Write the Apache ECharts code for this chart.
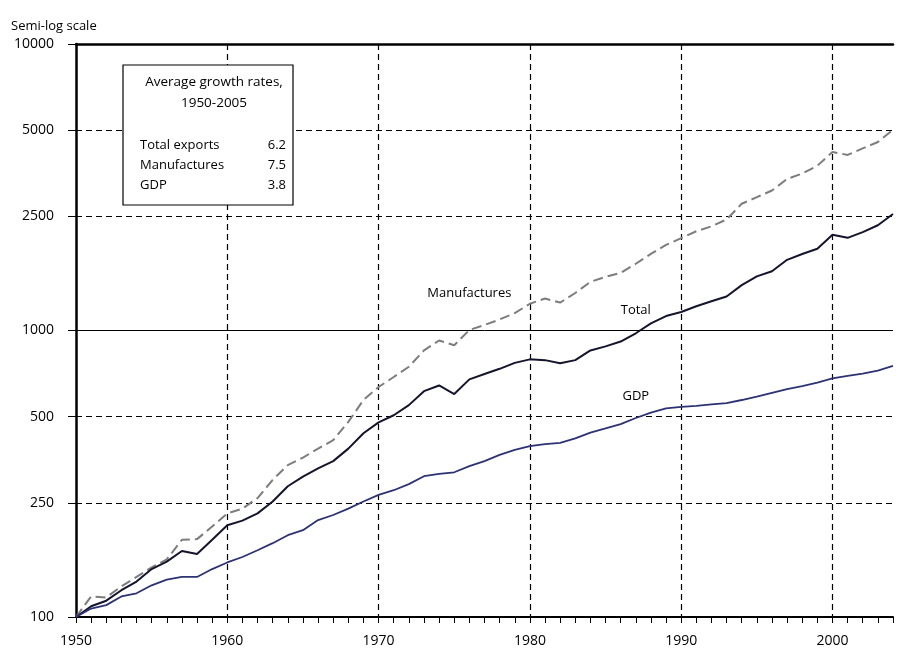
<!DOCTYPE html>
<html>
<head>
<meta charset="utf-8">
<script src="https://cdn.jsdelivr.net/npm/echarts@6/dist/echarts.min.js"></script>
<style>
  html, body { margin: 0; padding: 0; background: #fff; }
  #chart { width: 897px; height: 649px; }
</style>
</head>
<body>
<div id="chart"></div>
<script>
// Years on the horizontal axis
const years = [];
for (let y = 1950; y <= 2004; y++) years.push(String(y));

// Indices, 1950 = 100
const totalExports = [
  100, 109, 114, 124, 133, 147, 156, 170, 166, 186,
  209, 217, 230, 253, 286, 309, 330, 350, 387, 438,
  478, 506, 549, 614, 643, 600, 675, 705, 735, 771,
  793, 788, 768, 788, 852, 880, 915, 978, 1059, 1123,
  1160, 1215, 1265, 1315, 1440, 1545, 1610, 1765, 1850, 1930,
  2157, 2106, 2205, 2330, 2550
];
const manufactures = [
  100, 118, 117, 128, 138, 149, 159, 186, 187, 207,
  230, 239, 260, 301, 339, 360, 387, 414, 480, 572,
  635, 688, 747, 852, 923, 888, 1004, 1045, 1093, 1150,
  1240, 1293, 1252, 1352, 1478, 1540, 1590, 1710, 1850, 1990,
  2100, 2220, 2310, 2440, 2770, 2920, 3080, 3380, 3530, 3760,
  4200, 4100, 4320, 4550, 5020
];
const gdp = [
  100, 107, 110, 118, 121, 129, 135, 138, 138, 147,
  155, 162, 171, 181, 193, 201, 218, 227, 239, 253,
  267, 277, 291, 310, 316, 320, 336, 350, 368, 383,
  395, 401, 405, 420, 440, 455, 471, 495, 517, 535,
  541, 546, 552, 558, 572, 588, 606, 624, 640, 658,
  680, 694, 707, 725, 752
];

// Semi-log axis ticks
const yTickValues = [100, 250, 500, 1000, 2500, 5000, 10000];

// Growth-rate table
const rateTitle = ['Average growth rates,', '1950-2005'];
const rateNames = ['Total exports', 'Manufactures', 'GDP'];
const rateValues = ['6.2', '7.5', '3.8'];

const FONT = '"Open Sans", "Noto Sans", sans-serif';
const gridDash = [6, 4];

const chart = echarts.init(document.getElementById('chart'), null, { renderer: 'canvas' });

const option = {
  animation: false,
  backgroundColor: '#fff',
  title: {
    text: 'Semi-log scale',
    left: 6,
    top: 15,
    textStyle: { fontFamily: FONT, fontSize: 13, fontWeight: 'normal', color: '#000' }
  },
  grid: { left: 76, right: 4, top: 44, bottom: 32, containLabel: false },
  xAxis: [
    {
      type: 'category',
      data: years,
      boundaryGap: false,
      axisLine: { show: true, lineStyle: { color: '#000', width: 2 } },
      axisTick: { show: true, interval: 0, length: 6, lineStyle: { color: '#000', width: 1 } },
      axisLabel: {
        interval: (i) => i % 10 === 0,
        margin: 17,
        fontFamily: FONT, fontSize: 14, color: '#000'
      },
      splitLine: {
        show: true,
        interval: (i) => i % 10 === 0 && i > 0,
        lineStyle: { color: '#000', width: 1.2, type: gridDash }
      }
    },
    {
      type: 'category',
      data: years,
      boundaryGap: false,
      position: 'top',
      axisLine: { show: true, lineStyle: { color: '#000', width: 2.5 } },
      axisTick: { show: false },
      axisLabel: { show: false },
      splitLine: { show: false }
    }
  ],
  yAxis: {
    type: 'log',
    logBase: 10,
    min: 100,
    max: 10000,
    axisLine: { show: true, lineStyle: { color: '#000', width: 2.5 } },
    axisTick: { show: true, length: 8, customValues: yTickValues, lineStyle: { color: '#000', width: 1 } },
    axisLabel: {
      customValues: yTickValues,
      margin: 22,
      formatter: (v) => String(Math.round(v)),
      fontFamily: FONT, fontSize: 14, color: '#000'
    },
    splitLine: { show: true, lineStyle: { color: '#000', width: 1.2, type: gridDash } }
  },
  series: [
    {
      name: 'Manufactures',
      type: 'line',
      data: manufactures,
      showSymbol: false,
      lineStyle: { color: '#7d7d7d', width: 2, type: [10, 5] },
      z: 3
    },
    {
      name: 'Total',
      type: 'line',
      data: totalExports,
      showSymbol: false,
      lineStyle: { color: '#14142c', width: 2 },
      z: 4,
      markLine: {
        silent: true,
        symbol: 'none',
        label: { show: false },
        lineStyle: { color: '#000', width: 1, type: 'solid' },
        data: [{ yAxis: 1000 }]
      }
    },
    {
      name: 'GDP',
      type: 'line',
      data: gdp,
      showSymbol: false,
      lineStyle: { color: '#2c3274', width: 1.8 },
      z: 4
    }
  ]
};

chart.setOption(option);

// Growth-rate box
const boxChildren = [
  { type: 'rect', shape: { x: 0, y: 0, width: 170, height: 140 },
    style: { fill: '#fff', stroke: '#000', lineWidth: 1.2 } }
];
rateTitle.forEach((t, i) => {
  boxChildren.push({
    type: 'text', x: 91, y: 17 + i * 21,
    style: { text: t, font: '13.5px ' + FONT, fill: '#000',
             align: 'center', verticalAlign: 'middle',
             textAlign: 'center', textVerticalAlign: 'middle' }
  });
});
rateNames.forEach((n, i) => {
  boxChildren.push({
    type: 'text', x: 17, y: 80 + i * 20,
    style: { text: n, font: '13px ' + FONT, fill: '#000',
             align: 'left', verticalAlign: 'middle',
             textAlign: 'left', textVerticalAlign: 'middle' }
  });
  boxChildren.push({
    type: 'text', x: 163, y: 80 + i * 20,
    style: { text: rateValues[i], font: '13px ' + FONT, fill: '#000',
             align: 'right', verticalAlign: 'middle',
             textAlign: 'right', textVerticalAlign: 'middle' }
  });
});

// Series name tags, anchored in data space (category index, value)
const tags = [
  { text: 'Manufactures', at: [26.0, 1348] },
  { text: 'Total', at: [36.85, 1173] },
  { text: 'GDP', at: [37.25, 587] }
];
const tagElems = tags.map((t) => {
  const p = chart.convertToPixel({ gridIndex: 0 }, t.at);
  return {
    type: 'text', x: p[0], y: p[1], z: 100,
    style: { text: t.text, font: '13px ' + FONT, fill: '#000',
             align: 'center', verticalAlign: 'middle',
             textAlign: 'center', textVerticalAlign: 'middle' }
  };
});

chart.setOption({
  graphic: [
    { type: 'group', x: 123, y: 65, z: 100, children: boxChildren },
    ...tagElems
  ]
});
</script>
</body>
</html>
